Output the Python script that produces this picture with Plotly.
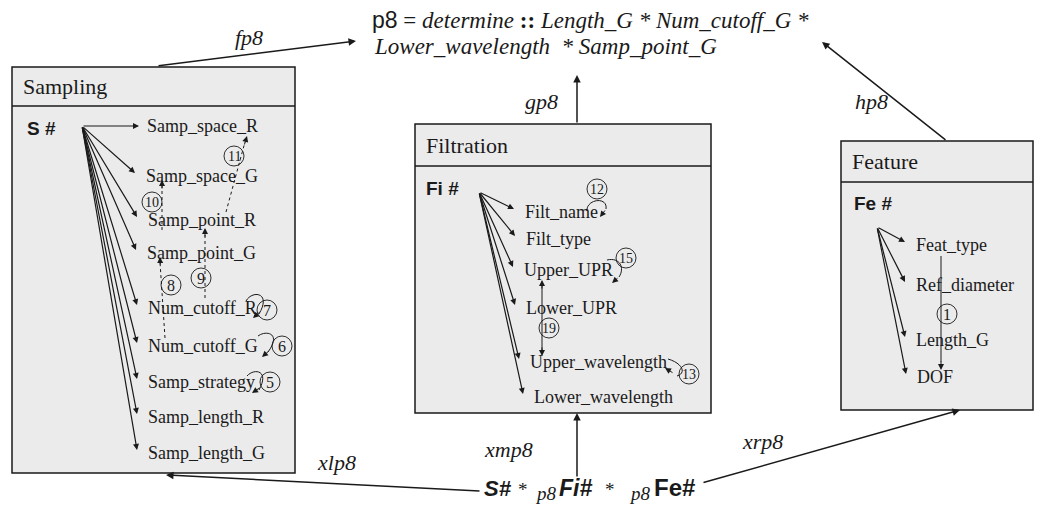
import plotly.graph_objects as go

SERIF = "Liberation Serif"
SANS = "Liberation Sans"
INK = "#1a1a1a"
FILL = "#ebebeb"

# ---- content -------------------------------------------------------------
box_titles = ["Sampling", "Filtration", "Feature"]
box_ids = ["S #", "Fi #", "Fe #"]
sampling_items = ["Samp_space_R", "Samp_space_G", "Samp_point_R", "Samp_point_G",
                  "Num_cutoff_R", "Num_cutoff_G", "Samp_strategy",
                  "Samp_length_R", "Samp_length_G"]
filtration_items = ["Filt_name", "Filt_type", "Upper_UPR", "Lower_UPR",
                    "Upper_wavelength", "Lower_wavelength"]
feature_items = ["Feat_type", "Ref_diameter", "Length_G", "DOF"]
step_labels = ["1", "5", "6", "7", "8", "9", "10", "11", "12", "13", "15", "19"]
link_labels = ["fp8", "gp8", "hp8", "xlp8", "xmp8", "xrp8"]

# ---- layout geometry (pixels, y downwards) -------------------------------
boxes = [(12, 67, 295, 473, 106), (415, 124, 711, 413, 166), (841, 141, 1033, 410, 182)]
id_pos = [(25, 128), (424, 188), (852, 203)]
fan_origin = [(82, 126), (479, 192), (877, 227)]
sampling_xy = [(145, 126), (144, 176), (146, 220), (145, 253), (146, 308),
               (146, 346), (146, 382), (146, 417), (146, 453)]
filtration_xy = [(523, 212), (524, 239), (522, 270), (524, 308), (528, 362), (532, 397)]
feature_xy = [(914, 245), (914, 285), (914, 340), (915, 377)]
step_xy = [(947, 314), (270, 382), (282, 346), (267, 310), (171, 285), (201, 278),
           (152, 202), (234, 156), (597, 189), (689, 374), (626, 258), (549, 328)]

fig = go.Figure()


def text(x, y, s, size=18, family=SERIF, anchor="left", color=INK):
    fig.add_annotation(x=x, y=y, text=s, showarrow=False, xanchor=anchor, yanchor="middle",
                       font=dict(size=size, family=family, color=color))


def arrow(x0, y0, x1, y1, width=1.2, size=1.0):
    fig.add_annotation(x=x1, y=y1, ax=x0, ay=y0, xref="x", yref="y", axref="x", ayref="y",
                       text="", showarrow=True, arrowhead=2, arrowsize=size,
                       arrowwidth=width, arrowcolor=INK)


def head(x0, y0, x1, y1):
    # tiny segment that only carries an arrowhead at (x1, y1)
    arrow(x0, y0, x1, y1, width=1.0, size=1.2)


def line(x0, y0, x1, y1, dash="solid", width=1.0):
    fig.add_shape(type="line", x0=x0, y0=y0, x1=x1, y1=y1,
                  line=dict(color=INK, width=width, dash=dash))


def curve(path):
    fig.add_shape(type="path", path=path, line=dict(color=INK, width=1.0))


def circled(x, y, s):
    r = 10
    fig.add_shape(type="circle", x0=x - r, x1=x + r, y0=y - r, y1=y + r,
                  line=dict(color=INK, width=0.9), fillcolor="rgba(0,0,0,0)")
    text(x, y + 0.5, s, size=16 if len(s) == 1 else 14, anchor="center")


# boxes with header strip
for (x0, y0, x1, y1, yh), title, ident, (ix, iy) in zip(boxes, box_titles, box_ids, id_pos):
    fig.add_shape(type="rect", x0=x0, y0=y0, x1=x1, y1=y1, fillcolor=FILL,
                  line=dict(color=INK, width=1.5), layer="below")
    line(x0, yh, x1, yh, width=1.5)
    text(x0 + 9, (y0 + yh) / 2, title, size=22)
    text(ix, iy, "<b>" + ident + "</b>", size=19, family=SANS)

# attribute lists with fan of arrows
for items, coords, (ox, oy) in zip([sampling_items, filtration_items, feature_items],
                                   [sampling_xy, filtration_xy, feature_xy], fan_origin):
    for name, (tx, ty) in zip(items, coords):
        text(tx, ty, name)
        if abs(ty - oy) < 3:
            arrow(ox, oy, tx - 6, ty)
        else:
            arrow(ox, oy, tx - 9, ty - 3)

# dashed dependency chains in Sampling
line(165, 338, 160, 262, dash="3px,3px")
head(160.3, 266, 160, 257)
line(205, 298, 205, 234, dash="3px,3px")
head(205, 238, 205, 228)
line(162, 230, 162, 186, dash="3px,3px")
head(162, 190, 162, 180)
line(226, 212, 245, 142, dash="3px,3px")
head(244, 146, 247, 136)

# self loops
curve("M 246 301 C 252 290, 272 292, 259 314")
head(261, 311, 253, 318)
curve("M 258 336 C 266 330, 282 333, 268 352")
head(270, 350, 262, 357)
curve("M 247 376 C 254 368, 270 370, 259 390")
head(261, 387, 252, 393)
curve("M 587 211 C 586 199, 608 196, 606 209")
head(606, 209, 600, 217)
curve("M 607 260 C 620 257, 625 268, 619 277")
head(619, 277, 612, 283)
curve("M 668 359 C 682 363, 687 373, 677 376")
head(674, 373.5, 665, 368)

# solid links inside Filtration and Feature
line(542, 286, 542, 350)
head(542, 290, 542, 280)
head(542, 346, 542, 356)
line(941, 256, 941, 362)
head(941, 360, 941, 370)

for s, (cx, cy) in zip(step_labels, step_xy):
    circled(cx, cy, s)

# formula at the top
text(370, 20, "<span style='font-family:Liberation Sans'>p8</span> = <i>determine</i> "
     "<b>::</b> <i>Length_G * Num_cutoff_G *</i>", size=23)
text(372, 46, "<i>Lower_wavelength  * Samp_point_G</i>", size=23)

# formula at the bottom
text(482, 488, "<b><i>S#</i></b>", size=22, family=SANS)
text(516, 489, "*", size=19)
text(533, 493, "<i>p8</i>", size=19)
text(557, 488, "<b><i>Fi#</i></b>", size=23, family=SANS)
text(603, 489, "*", size=19)
text(627, 493, "<i>p8</i>", size=19)
text(652, 487, "<b>Fe#</b>", size=24, family=SANS)

# links between the blocks
links = [(157, 66, 356, 41), (577, 124, 577, 75), (947, 141, 822, 42),
         (481, 491, 166, 475), (577, 478, 577, 413), (702, 483, 960, 410)]
label_xy = [(249, 37), (541, 101), (871, 101), (336, 462), (508, 449), (762, 441)]
for (x0, y0, x1, y1), lab, (lx, ly) in zip(links, link_labels, label_xy):
    arrow(x0, y0, x1, y1, width=1.5, size=1.0)
    text(lx, ly, "<i>" + lab + "</i>", size=22, anchor="center")

fig.update_layout(width=1037, height=507, margin=dict(l=0, r=0, t=0, b=0),
                  paper_bgcolor="white", plot_bgcolor="white", showlegend=False)
fig.update_xaxes(range=[0, 1037], visible=False)
fig.update_yaxes(range=[507, 0], visible=False)
fig.write_html("out.html", config={"displayModeBar": False},
               post_script="document.body.style.margin='0';")
